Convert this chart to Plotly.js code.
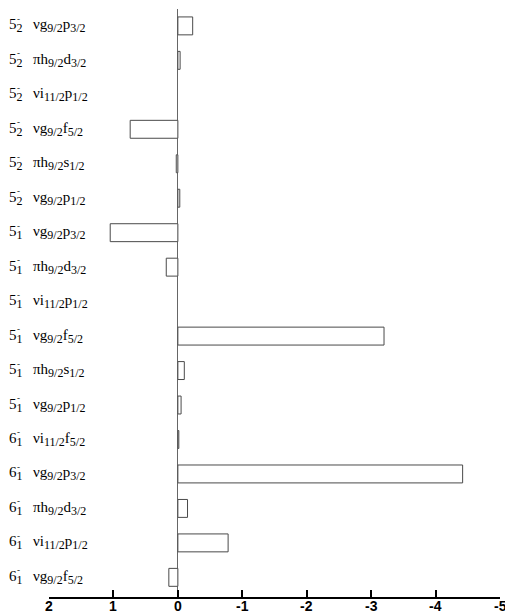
<!DOCTYPE html>
<html>
<head>
<meta charset="utf-8">
<script src="https://cdn.plot.ly/plotly-3.0.1.min.js"></script>
<style>html,body{margin:0;padding:0;background:#fff;}#chart{width:505px;height:613px;}</style>
</head>
<body>
<div id="chart"></div>
<script>
// Data
var spins = ["5","5","5","5","5","5","5","5","5","5","5","5","6","6","6","6","6"];
var spinIndex = ["2","2","2","2","2","2","1","1","1","1","1","1","1","1","1","1","1"];
var orbitA = ["νg","πh","νi","νg","πh","νg","νg","πh","νi","νg","πh","νg","νi","νg","πh","νi","νg"];
var jA = ["9/2","9/2","11/2","9/2","9/2","9/2","9/2","9/2","11/2","9/2","9/2","9/2","11/2","9/2","9/2","11/2","9/2"];
var orbitB = ["p","d","p","f","s","p","p","d","p","f","s","p","f","p","d","p","f"];
var jB = ["3/2","3/2","1/2","5/2","1/2","1/2","3/2","3/2","1/2","5/2","1/2","1/2","5/2","3/2","3/2","1/2","5/2"];
var values = [-0.23, -0.035, 0, 0.74, 0.025, -0.03, 1.05, 0.18, 0, -3.2, -0.1, -0.05, -0.015, -4.42, -0.15, -0.78, 0.14];
var xTickVals = [2, 1, 0, -1, -2, -3, -4, -5];
var xTickText = ["2", "1", "0", "-1", "-2", "-3", "-4", "-5"];

var categories = values.map(function(v, i){ return "r" + i; });

var L = 49, R = 5, W = 505;
var pw = W - L - R;
function px(p){ return (p - L) / pw; }
function sub(t){ return "<sub><span style=\"font-size:12px\">" + t + "</span></sub>"; }

var annotations = [];
var fam = "Liberation Serif, Times New Roman, serif";
var serif = {family: fam, size: 15, color: "#000"};
for (var i = 0; i < categories.length; i++) {
  annotations.push({xref: "paper", yref: "y", x: px(6.5), y: categories[i], xanchor: "left", yanchor: "middle",
    text: spins[i] + sub(spinIndex[i]), showarrow: false, font: serif});
  annotations.push({xref: "paper", yref: "y", x: px(18.3), y: categories[i], xanchor: "center", yanchor: "middle",
    yshift: 7, text: "-", showarrow: false, font: {family: fam, size: 9, color: "#000"}});
  annotations.push({xref: "paper", yref: "y", x: px(31), y: categories[i], xanchor: "left", yanchor: "middle",
    text: orbitA[i].charAt(0) + orbitA[i].charAt(1) + sub(jA[i]) + orbitB[i] + sub(jB[i]),
    showarrow: false, font: serif});
}
for (var k = 0; k < xTickVals.length; k++) {
  annotations.push({xref: "x", yref: "paper", x: xTickVals[k], y: 0, xanchor: "center", yanchor: "middle",
    yshift: -9, text: xTickText[k], showarrow: false, borderpad: 0,
    font: {family: "Liberation Sans, Arial, sans-serif", size: 14, color: "#000", weight: "bold"}});
}

var lineWidths = values.map(function(v){ return v === 0 ? 0 : 1; });

var trace = {
  type: "bar",
  orientation: "h",
  x: values,
  y: categories,
  width: 0.52,
  marker: {color: "#ffffff", line: {color: "#4a4a4a", width: lineWidths}},
  hoverinfo: "x"
};

var layout = {
  width: 505, height: 613,
  margin: {l: L, r: R, t: 9, b: 16, pad: 0},
  paper_bgcolor: "#fff", plot_bgcolor: "#fff",
  showlegend: false,
  xaxis: {
    range: [2, -5], tickvals: xTickVals, showticklabels: false,
    ticks: "inside", ticklen: 7, tickwidth: 2, tickcolor: "#000",
    showline: true, linewidth: 2, linecolor: "#000",
    showgrid: false, zeroline: true, zerolinecolor: "#666", zerolinewidth: 1,
    fixedrange: true
  },
  yaxis: {
    type: "category", categoryorder: "array", categoryarray: categories,
    range: [16.57, -0.49], showticklabels: false, ticks: "", showgrid: false,
    showline: false, zeroline: false, fixedrange: true
  },
  annotations: annotations
};

Plotly.newPlot("chart", [trace], layout, {displayModeBar: false, staticPlot: true});
</script>
</body>
</html>
